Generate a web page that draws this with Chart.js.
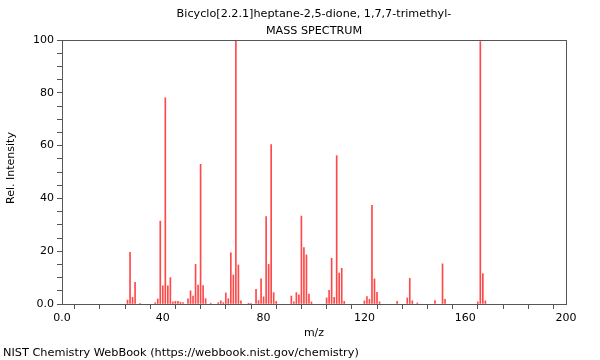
<!DOCTYPE html>
<html>
<head>
<meta charset="utf-8">
<script src="https://cdn.jsdelivr.net/npm/chart.js@4"></script>
<style>
    body { margin: 0; background: #fff; }
    #wrap { width: 600px; height: 360px; position: relative; }
</style>
</head>
<body>
<div id="wrap"><canvas id="spectrum"></canvas></div>
<script>
// m/z values and relative intensities
const mz = [26, 27, 28, 29, 31, 37, 38, 39, 40, 41, 42, 43, 44, 45, 46, 47, 48,
    50, 51, 52, 53, 54, 55, 56, 57, 59, 62, 63, 64, 65, 66, 67, 68, 69, 70, 71,
    74, 75, 77, 78, 79, 80, 81, 82, 83, 84, 85, 91, 92, 93, 94, 95, 96, 97, 98, 99,
    105, 106, 107, 108, 109, 110, 111, 112, 120, 121, 122, 123, 124, 125, 126,
    133, 137, 138, 139, 141, 148, 151, 152, 165, 166, 167, 168];
const intensity = [1.5, 19.6, 2.5, 8.2, 0.3, 0.5, 1.9, 31.4, 6.9, 78.1, 6.9, 10.0, 0.8, 1.0, 1.0, 0.7, 0.5,
    2.0, 5.0, 3.0, 15.0, 7.2, 52.9, 7.0, 2.0, 0.3, 0.5, 1.2, 0.5, 4.2, 2.0, 19.4, 11.0, 100, 14.8, 1.2,
    0.3, 0.3, 5.6, 1.3, 9.5, 2.7, 33.1, 15.0, 60.4, 4.3, 1.0, 3.0, 0.8, 4.3, 3.5, 33.3, 21.4, 18.6, 3.8, 0.8,
    2.3, 5.2, 17.3, 2.5, 56.2, 11.7, 13.5, 1.0, 1.2, 2.8, 1.8, 37.4, 9.5, 4.4, 0.8,
    1.0, 2.3, 9.7, 1.2, 0.4, 1.3, 15.2, 1.8, 0.8, 99.4, 11.5, 1.2];

const titleLines = ['Bicyclo[2.2.1]heptane-2,5-dione, 1,7,7-trimethyl-', 'MASS SPECTRUM'];
const xTitle = 'm/z';
const yTitle = 'Rel. Intensity';
const footer = 'NIST Chemistry WebBook (https://webbook.nist.gov/chemistry)';

const points = mz.map((m, i) => ({ x: m, y: intensity[i] }));

// frame and text drawn around the chart area
const decorations = {
    id: 'decorations',
    afterDraw(chart) {
        const ctx = chart.ctx;
        const area = chart.chartArea;
        ctx.save();
        ctx.strokeStyle = '#555';
        ctx.lineWidth = 1;
        ctx.strokeRect(Math.round(area.left) + 0.5, Math.round(area.top) + 0.5,
            Math.round(area.right - area.left), Math.round(area.bottom - area.top));

        ctx.fillStyle = '#000';
        ctx.textBaseline = 'middle';
        ctx.textAlign = 'center';
        ctx.font = '11.2px "DejaVu Sans"';
        ctx.fillText(titleLines[0], 314, 14);
        ctx.fillText(titleLines[1], 314, 31);

        ctx.font = '11px "DejaVu Sans"';
        ctx.fillText(xTitle, 314, 333);

        ctx.textAlign = 'left';
        ctx.font = '11.3px "DejaVu Sans"';
        ctx.fillText(footer, 3, 353);

        ctx.font = '11px "DejaVu Sans"';
        ctx.translate(11, 168);
        ctx.rotate(-Math.PI / 2);
        ctx.textAlign = 'center';
        ctx.fillText(yTitle, 0, 0);
        ctx.restore();
    }
};

new Chart(document.getElementById('spectrum'), {
    type: 'bar',
    data: {
        datasets: [{
            data: points,
            backgroundColor: 'rgba(255, 40, 40, 0.85)',
            barThickness: 1,
            grouped: false
        }]
    },
    options: {
        responsive: true,
        maintainAspectRatio: false,
        animation: false,
        layout: { padding: { top: 40, right: 34, left: 0, bottom: 0 } },
        plugins: {
            legend: { display: false },
            title: { display: false },
            tooltip: { enabled: false }
        },
        scales: {
            x: {
                type: 'linear',
                min: 0,
                max: 200,
                offset: false,
                afterFit: (scale) => { scale.height = 56; },
                border: { color: '#555' },
                grid: { drawOnChartArea: false, tickLength: 5, color: '#555' },
                ticks: {
                    stepSize: 10,
                    autoSkip: false,
                    maxRotation: 0,
                    padding: 3,
                    color: '#000',
                    font: { family: 'DejaVu Sans', size: 11 },
                    callback: (v) => v === 0 ? '0.0' : (v % 40 === 0 ? String(v) : '')
                }
            },
            y: {
                min: 0,
                max: 100,
                afterFit: (scale) => { scale.width = 62; },
                border: { color: '#555' },
                grid: { drawOnChartArea: false, tickLength: 5, color: '#555' },
                ticks: {
                    stepSize: 5,
                    autoSkip: false,
                    padding: 3,
                    color: '#000',
                    font: { family: 'DejaVu Sans', size: 11 },
                    callback: (v) => v === 0 ? '0.0' : (v % 20 === 0 ? String(v) : '')
                }
            }
        }
    },
    plugins: [decorations]
});
</script>
</body>
</html>
